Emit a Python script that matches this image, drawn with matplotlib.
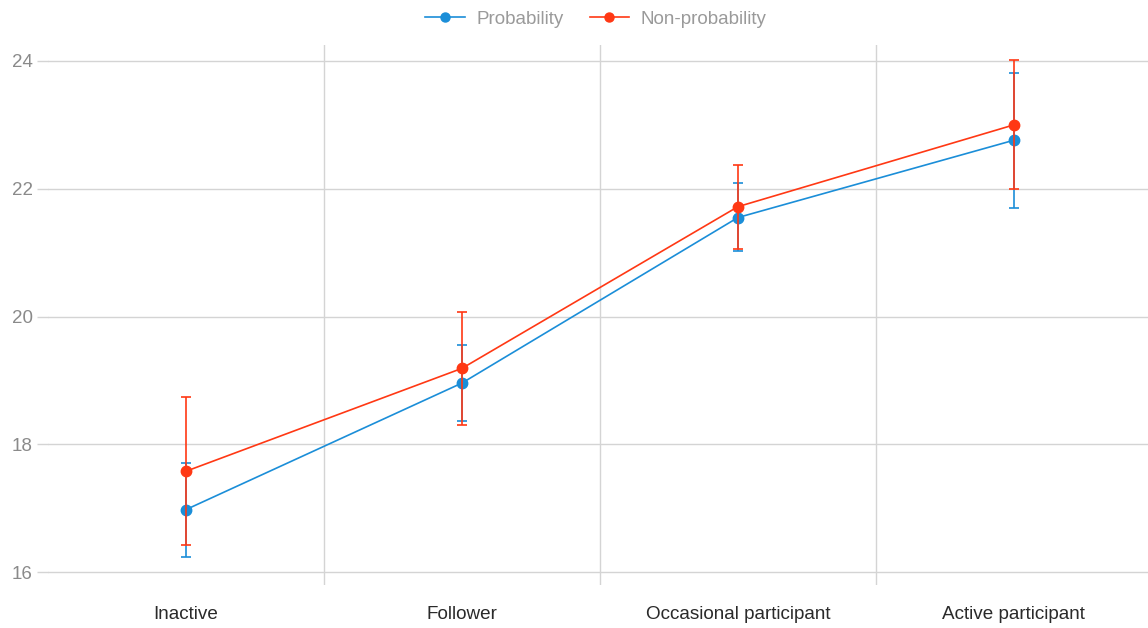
import numpy as np
import matplotlib.pyplot as plt
from matplotlib.ticker import FixedLocator
from matplotlib.lines import Line2D

plt.rcParams['font.family'] = ['Liberation Sans', 'DejaVu Sans']

# categories on the x axis
stages = ['Inactive', 'Follower', 'Occasional participant', 'Active participant']

# probability sample: mean and interval bounds
prob_mean = [16.98, 18.96, 21.55, 22.76]
prob_low = [16.24, 18.37, 21.03, 21.70]
prob_high = [17.71, 19.55, 22.09, 23.81]

# non-probability sample: mean and interval bounds
nonprob_mean = [17.58, 19.19, 21.72, 23.00]
nonprob_low = [16.42, 18.31, 21.06, 22.00]
nonprob_high = [18.74, 20.07, 22.37, 24.01]

blue = '#1b8ed8'
red = '#ff3814'
grid_col = '#d4d4d4'

fig = plt.figure(figsize=(11.48, 6.28), dpi=100)
ax = fig.add_axes([48/1148, 43/628, 1100/1148, 540/628])

x = np.arange(1, len(stages) + 1)

def draw(mean, low, high, col, z):
    mean = np.array(mean)
    err = [mean - np.array(low), np.array(high) - mean]
    ax.errorbar(x, mean, yerr=err, color=col, ecolor=col, lw=1.2,
                elinewidth=1.2, capsize=3.5, capthick=1.2,
                marker='o', markersize=7.5, zorder=z)

draw(prob_mean, prob_low, prob_high, blue, 3)
draw(nonprob_mean, nonprob_low, nonprob_high, red, 4)

ax.set_xlim(0.5, 4.486)
ax.set_ylim(15.8, 24.25)

ax.set_yticks([16, 18, 20, 22, 24])
ax.set_xticks(x)
ax.set_xticklabels(stages)
ax.xaxis.set_minor_locator(FixedLocator([1.5, 2.5, 3.5]))

ax.grid(axis='y', which='major', color=grid_col, lw=1.0)
ax.grid(axis='x', which='minor', color=grid_col, lw=1.0)
ax.grid(axis='x', which='major', visible=False)

for s in ax.spines.values():
    s.set_visible(False)

ax.tick_params(axis='y', which='major', length=8, color=grid_col, width=1.0,
               labelsize=13.5, labelcolor='#8a8a8a', pad=3)
ax.tick_params(axis='x', which='major', length=0, labelsize=13.6,
               labelcolor='#2a2a2a', pad=15)
ax.tick_params(axis='x', which='minor', length=0)

handles = [Line2D([], [], color=blue, lw=1.2, marker='o', markersize=6.5),
           Line2D([], [], color=red, lw=1.2, marker='o', markersize=6.5)]
leg = fig.legend(handles, ['Probability', 'Non-probability'],
                 loc='upper center', bbox_to_anchor=(0.519, 1.01), ncol=2,
                 frameon=False, fontsize=13.5, handlelength=2.1,
                 columnspacing=1.4, handletextpad=0.6)
for t in leg.get_texts():
    t.set_color('#9a9a9a')

fig.savefig('out.png', dpi=100)
